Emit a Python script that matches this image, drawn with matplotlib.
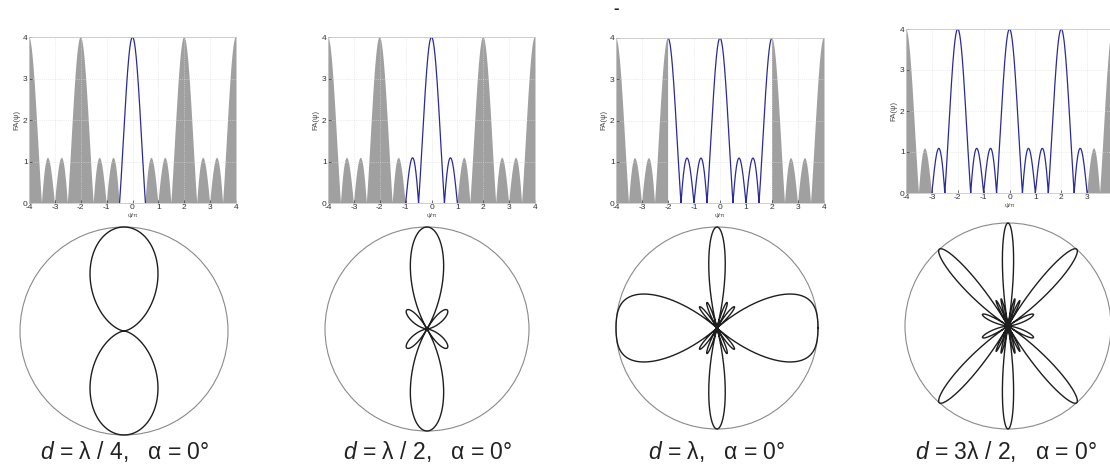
import numpy as np
import matplotlib.pyplot as plt
from matplotlib.patches import Circle

# Array parameters
#####################################################
n_elements = 4
spacings = [0.25, 0.5, 1.0, 1.5]          # d / lambda
alpha_deg = [0, 0, 0, 0]
captions = [r'$d$ = λ / 4,   α = 0°',
            r'$d$ = λ / 2,   α = 0°',
            r'$d$ = λ,   α = 0°',
            r'$d$ = 3λ / 2,   α = 0°']
xticks = [-4, -3, -2, -1, 0, 1, 2, 3, 4]
yticks = [0, 1, 2, 3, 4]

# Layout in pixels (left, right, top, bottom) and circle (cx, cy, r)
#####################################################
W, H = 1110, 472
top_boxes = [(29, 236, 37, 203), (328, 535, 37, 203),
             (616, 824, 38, 203), (906, 1113, 29, 193)]
circles = [(124, 331, 104), (427, 329, 102), (717, 328, 101), (1008, 326, 103)]
cap_x = [125, 428, 717, 1006]

plt.rcParams['font.family'] = ['Liberation Sans', 'DejaVu Sans']
plt.rcParams['mathtext.fontset'] = 'custom'
plt.rcParams['mathtext.it'] = 'Liberation Sans:italic'
plt.rcParams['mathtext.rm'] = 'Liberation Sans'
plt.rcParams['axes.unicode_minus'] = False

grey = '#a0a0a0'
blue = '#2a2a9a'


def array_factor(psi, n):
  num = np.sin(n * psi / 2.0)
  den = np.sin(psi / 2.0)
  out = np.full_like(psi, float(n))
  ok = np.abs(den) > 1e-9
  out[ok] = np.abs(num[ok] / den[ok])
  return out


fig = plt.figure(figsize=(W / 100.0, H / 100.0), dpi=100)

x = np.linspace(-4, 4, 8001)
af = array_factor(x * np.pi, n_elements)
theta = np.linspace(0, 2 * np.pi, 6001)

for i, d in enumerate(spacings):
  kd = 2 * d            # in units of pi
  a = alpha_deg[i] / 180.0

  # Array factor vs psi
  ############################################################
  l, r, t, b = top_boxes[i]
  ax = fig.add_axes([l / W, 1 - b / H, (r - l) / W, (b - t) / H])
  vis = (x >= a - kd) & (x <= a + kd)
  ax.fill_between(x, 0, af, where=(x <= a - kd + 1e-9) | (x >= a + kd - 1e-9),
                  color=grey, lw=0)
  ax.plot(x[vis], af[vis], color=blue, lw=0.9)
  ax.set_xlim(-4, 4)
  ax.set_ylim(0, 4)
  ax.set_xticks(xticks)
  ax.set_yticks(yticks)
  ax.grid(True, color='#dddddd', lw=0.5, ls=':')
  ax.tick_params(labelsize=6, length=2, width=0.5, direction='in',
                 colors='#333333', pad=1)
  for s in ax.spines.values():
    s.set_color('#c8c8c8')
    s.set_linewidth(0.6)
  ax.set_xlabel('ψ/π', fontsize=4.5, labelpad=1, color='#555555')
  ax.set_ylabel('FA(ψ)', fontsize=5.5, labelpad=2, color='#444444')

  # Polar pattern
  ############################################################
  cx, cy, rr = circles[i]
  axp = fig.add_axes([(cx - rr) / W, 1 - (cy + rr) / H, 2 * rr / W, 2 * rr / H])
  psi = (kd * np.cos(theta) + a) * np.pi
  rad = array_factor(psi, n_elements) / n_elements
  axp.add_patch(Circle((0, 0), 1, fill=False, ec='#8a8a8a', lw=0.8, clip_on=False))
  axp.plot(rad * np.cos(theta), rad * np.sin(theta), color='#1e1e1e', lw=1.0,
           clip_on=False)
  axp.set_xlim(-1, 1)
  axp.set_ylim(-1, 1)
  axp.axis('off')

  fig.text(cap_x[i] / W, 1 - 452 / H, captions[i], fontsize=16.5, ha='center',
           va='center', color='#222222')

# small stray mark above the third panel
fig.text(616 / W, 1 - 9 / H, '-', fontsize=12, fontweight='bold',
         ha='center', va='center', color='#222222')

fig.savefig('out.png', dpi=100)
